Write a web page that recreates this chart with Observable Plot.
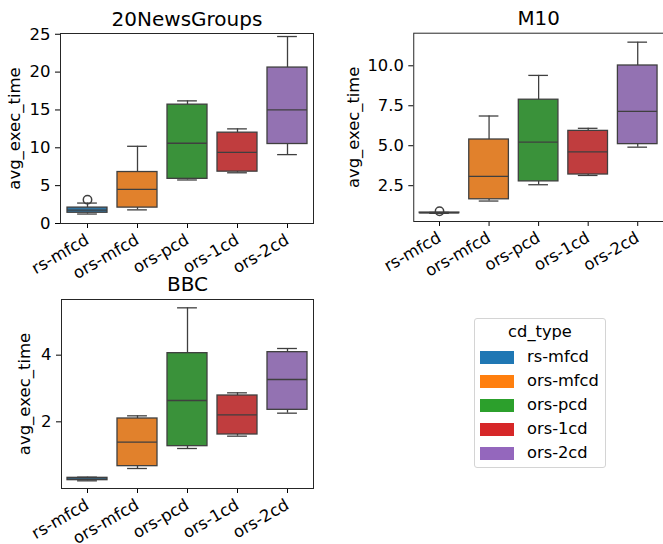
<!DOCTYPE html>
<html><head><meta charset="utf-8">
<script src="https://cdn.jsdelivr.net/npm/d3@7"></script>
<script src="https://cdn.jsdelivr.net/npm/@observablehq/plot@0.6"></script>
<style>
html,body{margin:0;padding:0;background:#fff}
body{width:663px;height:544px;overflow:hidden;position:relative;font-family:"DejaVu Sans",sans-serif;color:#000}
.panel{position:absolute}
#legend{position:absolute;left:474px;top:318px;width:132px;height:150px;border:1px solid #d4d4d4;border-radius:3px;box-sizing:border-box;font-size:16.3px}
#legend .ttl{position:absolute;left:0;width:100%;text-align:center;top:3px;line-height:20px}
#legend .row{position:absolute;left:5px;height:17px;line-height:17px}
#legend .sw{position:absolute;left:0;top:2px;width:34px;height:12.5px}
#legend .lb{position:absolute;left:47px;top:-1px;white-space:nowrap}
</style></head><body>
<div id="p1" class="panel" style="left:0;top:0"></div>
<div id="p2" class="panel" style="left:330px;top:0"></div>
<div id="p3" class="panel" style="left:0;top:270px"></div>
<div id="legend"></div>
<script>
// ---- data ----
const categories = ["rs-mfcd", "ors-mfcd", "ors-pcd", "ors-1cd", "ors-2cd"];
const boxColors = ["#3274a1", "#e1812c", "#3a923a", "#c03d3e", "#9372b2"];
const legendColors = ["#1f77b4", "#ff7f0e", "#2ca02c", "#d62728", "#9467bd"];
const legendTitle = "cd_type";
const yLabel = "avg_exec_time";

// 20NewsGroups
const ngLow  = [1.25, 1.8, 5.75, 6.7, 9.1];
const ngQ1   = [1.42, 2.1, 5.9, 6.85, 10.5];
const ngMed  = [1.78, 4.5, 10.6, 9.4, 15.0];
const ngQ3   = [2.1, 6.8, 15.7, 12.0, 20.6];
const ngHigh = [2.7, 10.2, 16.2, 12.5, 24.7];
const ngOutCat = ["rs-mfcd"];
const ngOutVal = [3.15];
const ngTicks = [0, 5, 10, 15, 20, 25];

// M10
const m10Low  = [0.77, 1.54, 2.56, 3.14, 4.91];
const m10Q1   = [0.78, 1.65, 2.77, 3.2, 5.1];
const m10Med  = [0.8, 3.08, 5.22, 4.62, 7.15];
const m10Q3   = [0.82, 5.39, 7.88, 5.93, 10.02];
const m10High = [0.83, 6.86, 9.4, 6.09, 11.48];
const m10OutCat = ["rs-mfcd"];
const m10OutVal = [0.9];
const m10Ticks = [2.5, 5.0, 7.5, 10.0];

// BBC
const bbcLow  = [0.23, 0.6, 1.2, 1.57, 2.26];
const bbcQ1   = [0.25, 0.67, 1.27, 1.62, 2.36];
const bbcMed  = [0.28, 1.39, 2.64, 2.21, 3.27];
const bbcQ3   = [0.32, 2.1, 4.06, 2.79, 4.09];
const bbcHigh = [0.34, 2.18, 5.42, 2.87, 4.2];
const bbcOutCat = [];
const bbcOutVal = [];
const bbcTicks = [2, 4];

const edge = "#3f3f3f";

function panel(o) {
  const rows = categories.map((c, i) => ({cat: c, low: o.low[i], q1: o.q1[i], med: o.med[i], q3: o.q3[i], high: o.high[i]}));
  const outs = o.outCat.map((c, i) => ({cat: c, v: o.outVal[i]}));
  const fw = o.width - o.ml - o.mr;
  const band = fw / categories.length * 0.8;
  const cap = band / 4;
  return Plot.plot({
    width: o.width, height: o.height,
    marginLeft: o.ml, marginRight: o.mr, marginTop: o.mt, marginBottom: o.mb,
    style: {fontFamily: "DejaVu Sans, sans-serif", fontSize: "16.5px", color: "#000", background: "transparent", overflow: "visible"},
    x: {domain: categories, paddingInner: 0.2, paddingOuter: 0.1, label: null, tickRotate: -30, tickSize: 5, tickPadding: 10},
    y: {domain: o.yDomain, ticks: o.ticks, tickFormat: o.fmt, label: yLabel, labelAnchor: "center", labelArrow: "none", labelOffset: o.lo, tickSize: 5, tickPadding: 5},
    color: {domain: categories, range: boxColors},
    marks: [
      Plot.ruleX(rows, {x: "cat", y1: "low", y2: "q1", stroke: edge, strokeWidth: 1.3}),
      Plot.ruleX(rows, {x: "cat", y1: "q3", y2: "high", stroke: edge, strokeWidth: 1.3}),
      Plot.tickY(rows, {x: "cat", y: "low", stroke: edge, strokeWidth: 1.3, insetLeft: cap, insetRight: cap}),
      Plot.tickY(rows, {x: "cat", y: "high", stroke: edge, strokeWidth: 1.3, insetLeft: cap, insetRight: cap}),
      Plot.barY(rows, {x: "cat", y1: "q1", y2: "q3", fill: "cat", stroke: edge, strokeWidth: 1.3}),
      Plot.tickY(rows, {x: "cat", y: "med", stroke: edge, strokeWidth: 1.3}),
      Plot.dot(outs, {x: "cat", y: "v", r: 4.2, stroke: edge, strokeWidth: 1.5, fill: "none"}),
      Plot.frame({stroke: "#262626", strokeWidth: 1}),
      Plot.text([o.title], {frameAnchor: "top", lineAnchor: "bottom", dy: o.tdy, fontSize: 20, fontWeight: "normal", fill: "#000"})
    ]
  });
}

document.getElementById("p1").append(panel({
  title: "20NewsGroups", low: ngLow, q1: ngQ1, med: ngMed, q3: ngQ3, high: ngHigh,
  outCat: ngOutCat, outVal: ngOutVal, yDomain: [0, 25.1], ticks: ngTicks, fmt: d3.format("d"),
  width: 330, height: 290, ml: 60, mr: 17, mt: 33, mb: 67, lo: 52, tdy: -8
}));
document.getElementById("p2").append(panel({
  title: "M10", low: m10Low, q1: m10Q1, med: m10Med, q3: m10Q3, high: m10High,
  outCat: m10OutCat, outVal: m10OutVal, yDomain: [0.26, 12.04], ticks: m10Ticks, fmt: d3.format(".1f"),
  width: 336, height: 290, ml: 84, mr: 0, mt: 33, mb: 67, lo: 67, tdy: -8
}));
document.getElementById("p3").append(panel({
  title: "BBC", low: bbcLow, q1: bbcQ1, med: bbcMed, q3: bbcQ3, high: bbcHigh,
  outCat: bbcOutCat, outVal: bbcOutVal, yDomain: [0.0, 5.67], ticks: bbcTicks, fmt: d3.format("d"),
  width: 330, height: 274, ml: 61, mr: 17, mt: 29, mb: 56, lo: 43, tdy: -9
}));

// legend
const lg = document.getElementById("legend");
const t = document.createElement("div");
t.className = "ttl"; t.textContent = legendTitle; lg.append(t);
categories.forEach((c, i) => {
  const r = document.createElement("div");
  r.className = "row";
  r.style.top = (30 + i * 24) + "px";
  const s = document.createElement("div");
  s.className = "sw"; s.style.background = legendColors[i];
  const l = document.createElement("div");
  l.className = "lb"; l.textContent = c;
  r.append(s, l); lg.append(r);
});
</script>
</body></html>
